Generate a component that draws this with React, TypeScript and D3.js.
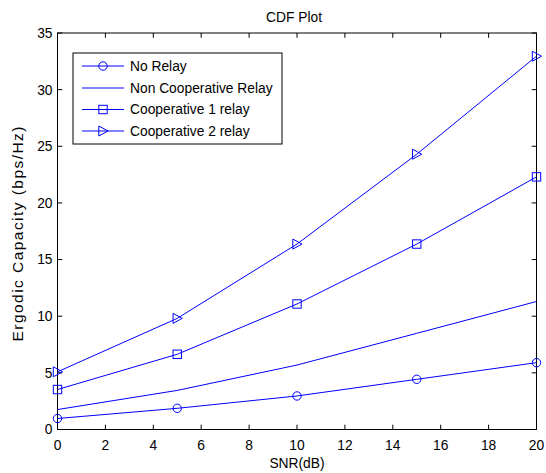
import React from "react";
import * as d3 from "d3";

const snr = [0, 5, 10, 15, 20];
const noRelay = [0.97, 1.87, 2.96, 4.43, 5.9];
const nonCoop = [1.76, 3.45, 5.69, 8.49, 11.3];
const coop1 = [3.53, 6.64, 11.08, 16.37, 22.3];
const coop2 = [5.09, 9.81, 16.37, 24.3, 32.95];
const xTicks = [0, 2, 4, 6, 8, 10, 12, 14, 16, 18, 20];
const yTicks = [0, 5, 10, 15, 20, 25, 30, 35];
const legendLabels = ["No Relay", "Non Cooperative Relay", "Cooperative 1 relay", "Cooperative 2 relay"];

const W = 546, H = 473;
const L = 57.5, R = 536.5, T = 33, B = 429.5;
const FONT = "Arial, 'Liberation Sans', Helvetica, sans-serif";
const FS = 13.8;
const BLUE = "#0000ff";
const TL = 4.8;

type Marker = "circle" | "none" | "square" | "triangle";

function MarkerShape({ m, x, y }: { m: Marker; x: number; y: number }) {
  if (m === "circle") return <circle cx={x} cy={y} r={4.2} fill="none" stroke={BLUE} strokeWidth={1} />;
  if (m === "square") return <rect x={x - 4.2} y={y - 4.2} width={8.4} height={8.4} fill="none" stroke={BLUE} strokeWidth={1} />;
  if (m === "triangle")
    return <path d={`M${x - 4.2},${y - 5} L${x + 5},${y} L${x - 4.2},${y + 5} Z`} fill="none" stroke={BLUE} strokeWidth={1} />;
  return null;
}

export default function App() {
  const x = d3.scaleLinear().domain([0, 20]).range([L, R]);
  const y = d3.scaleLinear().domain([0, 35]).range([B, T]);
  const line = d3
    .line<number>()
    .x((_, i) => x(snr[i]))
    .y((d) => y(d));
  const series: { data: number[]; m: Marker }[] = [
    { data: noRelay, m: "circle" },
    { data: nonCoop, m: "none" },
    { data: coop1, m: "square" },
    { data: coop2, m: "triangle" },
  ];
  const lg = { x: 73, y: 53, w: 209, h: 91 };
  const rowY = [66, 88, 109.5, 131];
  return (
    <svg width={W} height={H} style={{ position: "absolute", left: 0, top: 0, background: "#fff" }} fontFamily={FONT}>
      <rect x={0} y={0} width={W} height={H} fill="#fff" />
      <text x={294} y={21.5} textAnchor="middle" fontSize={FS} fill="#000">CDF Plot</text>
      <rect x={L} y={T} width={R - L} height={B - T} fill="#fff" stroke="#000" strokeWidth={1} />
      {xTicks.map((t) => (
        <g key={"x" + t}>
          <line x1={x(t)} x2={x(t)} y1={B} y2={B - TL} stroke="#000" />
          <line x1={x(t)} x2={x(t)} y1={T} y2={T + TL} stroke="#000" />
          <text x={x(t)} y={449.5} textAnchor="middle" fontSize={FS} fill="#000">{t}</text>
        </g>
      ))}
      {yTicks.map((t) => (
        <g key={"y" + t}>
          <line x1={L} x2={L + TL} y1={y(t)} y2={y(t)} stroke="#000" />
          <line x1={R} x2={R - TL} y1={y(t)} y2={y(t)} stroke="#000" />
          <text x={52.5} y={y(t) + 4.9} textAnchor="end" fontSize={FS} fill="#000">{t}</text>
        </g>
      ))}
      <text x={(L + R) / 2} y={468} textAnchor="middle" fontSize={FS} fill="#000">SNR(dB)</text>
      <text
        transform={`translate(23,234) rotate(-90)`}
        textAnchor="middle"
        fontSize={15.5}
        textLength={215}
        lengthAdjust="spacing"
        fill="#000"
      >
        Ergodic Capacity (bps/Hz)
      </text>
      {series.map((s, i) => (
        <g key={"s" + i}>
          <path d={line(s.data) || ""} fill="none" stroke={BLUE} strokeWidth={1} />
          {s.data.map((v, j) => (
            <MarkerShape key={j} m={s.m} x={x(snr[j])} y={y(v)} />
          ))}
        </g>
      ))}
      <rect x={lg.x} y={lg.y} width={lg.w} height={lg.h} fill="#fff" stroke="#000" strokeWidth={1} />
      {series.map((s, i) => (
        <g key={"l" + i}>
          <line x1={82} x2={124} y1={rowY[i]} y2={rowY[i]} stroke={BLUE} strokeWidth={1} />
          <MarkerShape m={s.m} x={103} y={rowY[i]} />
          <text x={130} y={rowY[i] + 4.9} fontSize={FS} fill="#000">{legendLabels[i]}</text>
        </g>
      ))}
    </svg>
  );
}
